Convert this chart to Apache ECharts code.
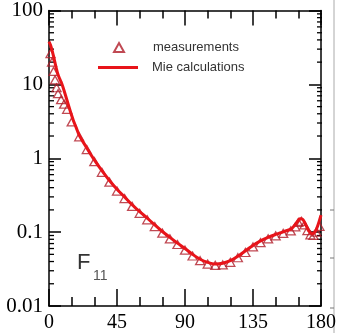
<!DOCTYPE html>
<html>
<head>
<meta charset="utf-8">
<script src="https://cdn.jsdelivr.net/npm/echarts@6/dist/echarts.min.js"></script>
<style>
  html, body { margin: 0; padding: 0; background: #fff; }
  #c { width: 339px; height: 333px; }
</style>
</head>
<body>
<div id="c"></div>
<script>
// Phase function F11 versus scattering angle (degrees)
const mieAngles = [0, 1, 2, 3, 4, 5, 6, 7, 8, 9, 10, 12, 14, 16, 18, 20, 25, 30, 35, 40, 45, 50, 55, 60, 65, 70, 75, 80, 85, 90, 95, 100, 105, 110, 115, 120, 125, 130, 135, 140, 145, 150, 155, 160, 162, 164, 166, 168, 170, 172, 174, 176, 178, 180];
const mieValues = [38, 34, 29, 24, 19.5, 16, 13.5, 12, 10.8, 9.5, 8.2, 6.0, 4.4, 3.3, 2.6, 2.05, 1.38, 0.95, 0.68, 0.5, 0.38, 0.3, 0.235, 0.19, 0.155, 0.125, 0.102, 0.085, 0.071, 0.06, 0.05, 0.043, 0.039, 0.037, 0.038, 0.041, 0.047, 0.056, 0.066, 0.076, 0.085, 0.093, 0.101, 0.11, 0.12, 0.135, 0.152, 0.148, 0.125, 0.103, 0.095, 0.1, 0.125, 0.17];

const measAngles = [1, 2, 3, 4, 5, 6, 8, 10, 12, 15, 20, 25, 30, 35, 40, 45, 50, 55, 60, 65, 70, 75, 80, 85, 90, 95, 100, 105, 110, 115, 120, 125, 130, 135, 140, 145, 150, 155, 160, 163, 165, 167, 169, 171, 173, 175, 177, 179];
const measValues = [26, 20, 15, 11.5, 9, 7.5, 6.2, 5.4, 4.6, 3.1, 1.95, 1.31, 0.9, 0.645, 0.475, 0.36, 0.285, 0.223, 0.18, 0.147, 0.119, 0.097, 0.081, 0.068, 0.057, 0.0475, 0.041, 0.037, 0.0355, 0.036, 0.039, 0.045, 0.053, 0.063, 0.072, 0.081, 0.089, 0.096, 0.104, 0.118, 0.135, 0.14, 0.125, 0.105, 0.092, 0.09, 0.1, 0.12];

const xTickLabels = [0, 45, 90, 135, 180];
const yTickLabels = [0.01, 0.1, 1, 10, 100];

const serif = '"Liberation Serif", "DejaVu Serif", serif';
const sans = '"Liberation Sans", Arial, sans-serif';
const lineRed = '#e8141a';
const markRed = '#b01c28';

const chart = echarts.init(document.getElementById('c'), null, { renderer: 'canvas' });

const frame = { color: '#000', width: 1.5 };

function angleAxis(position, showLabel, majorLen, minorLen) {
  return {
    type: 'value', position: position, min: 0, max: 180, interval: 45,
    axisLine: { show: true, onZero: false, lineStyle: frame },
    axisTick: { show: true, inside: true, length: majorLen, lineStyle: frame },
    minorTick: { show: true, splitNumber: 3, length: minorLen, lineStyle: frame },
    axisLabel: {
      show: showLabel, fontFamily: serif, fontSize: 20, color: '#000', margin: 7,
      formatter: v => (xTickLabels.indexOf(v) >= 0 ? String(v) : '')
    },
    splitLine: { show: false }, minorSplitLine: { show: false }
  };
}

function valueAxis(position, showLabel) {
  return {
    type: 'log', logBase: 10, position: position, min: 0.01, max: 100, interval: 1,
    axisLine: { show: true, onZero: false, lineStyle: frame },
    axisTick: { show: true, inside: true, length: 12, lineStyle: frame },
    axisLabel: {
      show: showLabel, fontFamily: serif, fontSize: 21, color: '#000', margin: 6,
      formatter: v => {
        const k = Math.round(Math.log10(v)) + 2;
        return yTickLabels[k] !== undefined ? String(yTickLabels[k]) : '';
      }
    },
    splitLine: { show: false }
  };
}

chart.setOption({
  animation: false,
  backgroundColor: '#fff',
  grid: { left: 49, right: 17, top: 10, bottom: 27, containLabel: false },
  xAxis: [angleAxis('bottom', true, 17, 9), angleAxis('top', false, 15, 8)],
  yAxis: [valueAxis('left', true), valueAxis('right', false)],
  legend: [
    {
      data: ['measurements'], left: 108, top: 36, orient: 'vertical',
      itemWidth: 10, itemHeight: 9, selectedMode: false,
      textStyle: { fontFamily: sans, fontSize: 13, color: '#333', padding: [0, 0, 0, 24] }
    },
    {
      data: [{ name: 'Mie calculations', icon: 'rect' }], left: 93, top: 56, orient: 'vertical',
      itemWidth: 40, itemHeight: 3, selectedMode: false,
      textStyle: { fontFamily: sans, fontSize: 13, color: '#333', padding: [0, 0, 0, 9] }
    }
  ],
  series: [
    {
      name: 'measurements', type: 'scatter',
      data: measAngles.map((a, i) => [a, measValues[i]]),
      symbol: 'triangle', symbolSize: [9, 8],
      itemStyle: { color: 'rgba(255,255,255,0)', borderColor: markRed, borderWidth: 1.3 },
      z: 2
    },
    {
      name: 'Mie calculations', type: 'line',
      data: mieAngles.map((a, i) => [a, mieValues[i]]),
      symbol: 'none', smooth: 0.3,
      lineStyle: { color: lineRed, width: 3 },
      itemStyle: { color: lineRed },
      z: 3
    }
  ]
});

// Logarithmic minor ticks on both value axes, plus the panel label
const gfx = [];
for (let d = -2; d < 2; d++) {
  for (let m = 2; m <= 9; m++) {
    const v = m * Math.pow(10, d);
    const y = chart.convertToPixel({ yAxisIndex: 0 }, v);
    gfx.push({ type: 'line', shape: { x1: 49, y1: y, x2: 54, y2: y }, style: { stroke: '#000', lineWidth: 1.3 } });
    gfx.push({ type: 'line', shape: { x1: 322, y1: y, x2: 317, y2: y }, style: { stroke: '#000', lineWidth: 1.3 } });
  }
}
gfx.push({ type: 'text', x: 77, y: 263, style: { text: 'F', font: '22px ' + sans, fill: '#333', verticalAlign: 'middle' } });
gfx.push({ type: 'text', x: 93, y: 276, style: { text: '11', font: '14px ' + sans, fill: '#555', verticalAlign: 'middle' } });
// edge of the adjacent panel
gfx.push({ type: 'line', shape: { x1: 334, y1: 0, x2: 334, y2: 333 }, style: { stroke: '#aaa', lineWidth: 1 } });
[210, 258, 308].forEach(y => gfx.push({ type: 'line', shape: { x1: 330, y1: y, x2: 334, y2: y }, style: { stroke: '#777', lineWidth: 1 } }));

chart.setOption({ graphic: gfx });
</script>
</body>
</html>
